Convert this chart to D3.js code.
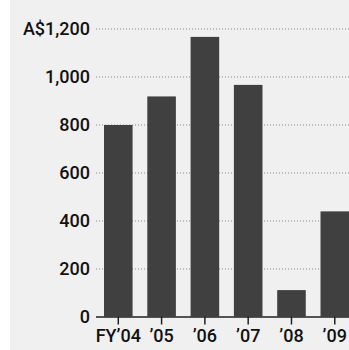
<!DOCTYPE html>
<html>
<head>
<meta charset="utf-8">
<script src="https://cdn.jsdelivr.net/npm/d3@7"></script>
<style>
  body { margin: 0; background: #fff; }
  svg { display: block; }
  .lbl { font-family: Roboto, sans-serif; font-weight: 500; font-size: 18px; fill: #111; }
</style>
</head>
<body>
<svg id="chart"></svg>
<script>
// data
const years = ["FY\u201904", "\u201905", "\u201906", "\u201907", "\u201908", "\u201909"];
const values = [798, 917, 1165, 965, 110, 438];
const yTicks = [0, 200, 400, 600, 800, 1000, 1200];
const yTickLabels = ["0", "200", "400", "600", "800", "1,000", "A$1,200"];

const W = 349, H = 350;
const margin = { top: 28.5, bottom: 33.5, left: 96, right: 0 };
const innerH = H - margin.top - margin.bottom;

const svg = d3.select("#chart").attr("width", W).attr("height", H);

// light panel
svg.append("rect")
    .attr("x", 10).attr("y", 0)
    .attr("width", W - 10).attr("height", H)
    .attr("fill", "#f0f0f0");

const chart = svg.append("g")
    .attr("transform", `translate(${margin.left},${margin.top})`);

const y = d3.scaleLinear().domain([0, 1200]).range([innerH, 0]);

// bands: first bar starts at 104, step ~43.3
const step = 43.3;
const x = d3.scaleBand()
    .domain(years)
    .range([8 - step * 0.17, 8 - step * 0.17 + step * years.length])
    .paddingInner(0.34)
    .paddingOuter(0.17);

// dotted gridlines
chart.selectAll(".grid")
  .data(yTicks.filter(d => d > 0))
  .join("line")
    .attr("class", "grid")
    .attr("x1", 0).attr("x2", W - margin.left)
    .attr("y1", d => Math.round(y(d)) + 0.5)
    .attr("y2", d => Math.round(y(d)) + 0.5)
    .attr("stroke", "#8a8a8a")
    .attr("stroke-width", 1)
    .attr("stroke-dasharray", "1,2");

// bars
chart.selectAll(".bar")
  .data(values)
  .join("rect")
    .attr("class", "bar")
    .attr("x", (d, i) => x(years[i]))
    .attr("width", x.bandwidth())
    .attr("y", d => y(d))
    .attr("height", d => innerH - y(d))
    .attr("fill", "#404040");

// y labels
const yAxis = d3.axisLeft(y).tickValues(yTicks)
    .tickFormat((d, i) => yTickLabels[i])
    .tickSize(0).tickPadding(6);
const yG = chart.append("g").call(yAxis);
yG.select(".domain").remove();
yG.selectAll("text").attr("class", "lbl").attr("dy", "0.35em")
    .attr("font-family", null).attr("font-size", null);

// x axis
const xAxis = d3.axisBottom(x).tickSize(8).tickSizeOuter(0).tickPadding(5);
const xG = chart.append("g")
    .attr("transform", `translate(0,${innerH})`)
    .call(xAxis);
xG.select(".domain")
    .attr("d", `M0,0.5H${W - margin.left}`)
    .attr("stroke", "#222").attr("stroke-width", 1.5);
xG.selectAll(".tick line").attr("stroke", "#222").attr("stroke-width", 1.5);
xG.selectAll("text").attr("class", "lbl")
    .attr("font-family", null).attr("font-size", null);
</script>
</body>
</html>
